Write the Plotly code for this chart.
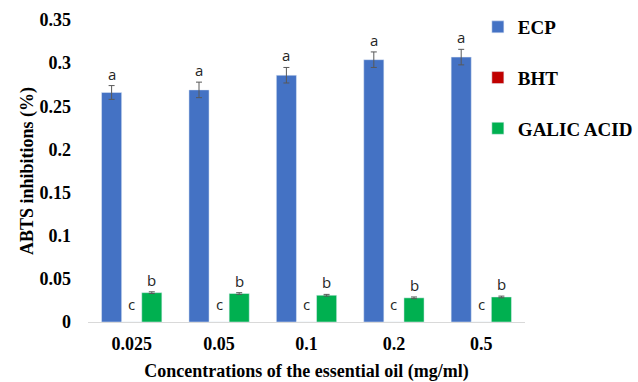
import plotly.graph_objects as go

categories = ["0.025", "0.05", "0.1", "0.2", "0.5"]
ecp = [0.266, 0.269, 0.286, 0.304, 0.307]
ecp_err = [0.008, 0.009, 0.009, 0.009, 0.009]
bht = [0.0, 0.0, 0.0, 0.0, 0.0]
galic = [0.034, 0.033, 0.031, 0.028, 0.029]
galic_err = [0.001, 0.001, 0.001, 0.001, 0.001]
ecp_letters = ["a", "a", "a", "a", "a"]
bht_letters = ["c", "c", "c", "c", "c"]
galic_letters = ["b", "b", "b", "b", "b"]

xs = list(range(len(categories)))
bargap = 0.31
bw = (1 - bargap) / 3

err_style = dict(type="data", color="#595959", thickness=1, width=3)
serif = "Liberation Serif"
fig = go.Figure()
fig.add_bar(x=xs, y=ecp, name="ECP", marker_color="#4472C4",
            error_y=dict(array=ecp_err, **err_style), legendgroup="1")
fig.add_bar(x=xs, y=bht, name="BHT", marker_color="#C00000", legendgroup="2")
fig.add_bar(x=xs, y=galic, name="GALIC ACID", marker_color="#00B050",
            error_y=dict(array=galic_err, **err_style), legendgroup="3")

ann = []
lf = dict(family="Open Sans", size=15, color="#262626")
for i in xs:
    ann.append(dict(x=i - bw, y=ecp[i] + ecp_err[i], text=ecp_letters[i], showarrow=False,
                    yanchor="bottom", yshift=0, font=lf))
    ann.append(dict(x=i, y=bht[i], text=bht_letters[i], showarrow=False,
                    yanchor="bottom", yshift=6, font=lf))
    ann.append(dict(x=i + bw, y=galic[i] + galic_err[i], text=galic_letters[i], showarrow=False,
                    yanchor="bottom", yshift=0, font=lf))

bold = dict(family=serif, size=18, color="black", weight="bold")
fig.update_layout(
    width=638, height=382,
    margin=dict(l=88, r=113, t=20, b=60, autoexpand=False),
    paper_bgcolor="white", plot_bgcolor="white",
    barmode="group", bargap=bargap, bargroupgap=0,
    annotations=ann,
    showlegend=True,
    legend=dict(x=0.749, y=0.979, xref="container", yref="container",
                xanchor="left", yanchor="top",
                font=dict(family=serif, size=19, color="black", weight="bold"),
                tracegroupgap=23, traceorder="grouped", itemwidth=30,
                bgcolor="rgba(0,0,0,0)"),
    xaxis=dict(tickmode="array", tickvals=xs, ticktext=categories,
               range=[-0.5, len(categories) - 0.5], automargin=False,
               showline=True, linecolor="#D9D9D9", linewidth=1,
               ticks="", showgrid=False, zeroline=False,
               tickfont=bold, ticklabelstandoff=5,
               title=dict(text="Concentrations of the essential oil (mg/ml)",
                          font=bold, standoff=18)),
    yaxis=dict(range=[0, 0.35], dtick=0.05, showgrid=False, zeroline=False,
               showline=False, ticks="", automargin=False,
               tickfont=bold, ticklabelstandoff=16,
               title=dict(text="ABTS inhibitions (%)", font=bold, standoff=1)),
)

fig.write_html("out.html", config={"displayModeBar": False},
               post_script="document.body.style.margin='0';document.body.style.overflow='hidden';")
